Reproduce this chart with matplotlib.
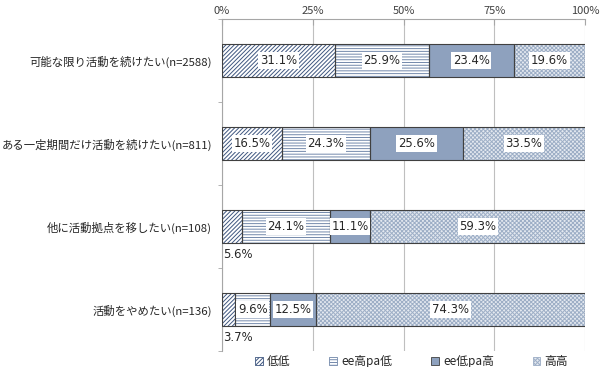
import matplotlib
matplotlib.use("Agg")
import matplotlib.pyplot as plt
from matplotlib.patches import Patch
import numpy as np

plt.rcParams['font.family'] = ['Noto Sans CJK JP', 'DejaVu Sans']
plt.rcParams['hatch.linewidth'] = 0.7

categories = ['可能な限り活動を続けたい(n=2588)',
              'ある一定期間だけ活動を続けたい(n=811)',
              '他に活動拠点を移したい(n=108)',
              '活動をやめたい(n=136)']
series_names = ['低低', 'ee高pa低', 'ee低pa高', '高高']
values = {
    '低低':     [31.1, 16.5, 5.6, 3.7],
    'ee高pa低': [25.9, 24.3, 24.1, 9.6],
    'ee低pa高': [23.4, 25.6, 11.1, 12.5],
    '高高':     [19.6, 33.5, 59.3, 74.3],
}
xticks = [0, 25, 50, 75, 100]
xticklabels = ['0%', '25%', '50%', '75%', '100%']

styles = {
    '低低':     dict(face='white', hatch='////////', hc='#3F5780'),
    'ee高pa低': dict(face='white', hatch='------', hc='#7389AB'),
    'ee低pa高': dict(face='#8EA1BE', hatch=None, hc='#8EA1BE'),
    '高高':     dict(face='#E4E9F0', hatch='xxxxxxxx', hc='#9DAEC6'),
}
edge = '#404040'

fig = plt.figure(figsize=(6.0, 3.67), dpi=100)
ax = fig.add_axes([0.37, 0.044, 0.605, 0.904])

y = np.arange(len(categories))
h = 0.39
left = np.zeros(len(categories))
for name in series_names:
    v = np.array(values[name])
    st = styles[name]
    ax.barh(y, v, left=left, height=h, color=st['face'], hatch=st['hatch'],
            edgecolor=st['hc'], linewidth=0, zorder=2)
    ax.barh(y, v, left=left, height=h, color='none', edgecolor=edge,
            linewidth=0.8, zorder=3)
    for i, (l, val) in enumerate(zip(left, v)):
        txt = f'{val:.1f}%'
        if val < 6:
            ax.text(0.4, y[i] + 0.34, txt, ha='left', va='center', fontsize=8.4,
                    color='#262626', zorder=4, family='DejaVu Sans')
        else:
            ax.text(l + val / 2, y[i], txt, ha='center', va='center', fontsize=8.4,
                    color='#262626', zorder=4, family='DejaVu Sans',
                    bbox=dict(boxstyle='square,pad=0.14', fc='white', ec='none'))
    left = left + v

ax.set_xlim(0, 100)
ax.set_ylim(len(categories) - 0.5, -0.5)
ax.xaxis.tick_top()
ax.set_xticks(xticks)
ax.set_xticklabels(xticklabels, fontsize=8, color='#404040')
ax.set_yticks(y)
ax.set_yticklabels(categories, fontsize=8.2, color='#262626')
ax.set_yticks(np.arange(-0.5, len(categories)), minor=True)
ax.tick_params(axis='y', which='major', length=0, pad=7)
ax.tick_params(axis='y', which='minor', length=3, color='#A6A6A6')
ax.tick_params(axis='x', length=4, color='#A6A6A6', pad=2, direction='in')
ax.grid(axis='x', color='#BFBFBF', linewidth=0.8, zorder=0)
ax.set_axisbelow(True)
for s in ['right', 'bottom']:
    ax.spines[s].set_visible(False)
ax.spines['top'].set_color('#A6A6A6')
ax.spines['left'].set_color('#A6A6A6')

handles = [Patch(facecolor=styles[n]['face'], hatch=styles[n]['hatch'],
                 edgecolor=edge if styles[n]['hatch'] is None else styles[n]['hc'],
                 linewidth=0.6) for n in series_names]
leg = fig.legend(handles, series_names, loc='center', bbox_to_anchor=(0.686, 0.015),
                 ncol=4, frameon=False, fontsize=8.5, handlelength=0.65,
                 handleheight=0.65, handletextpad=0.35, columnspacing=3.3)
for t in leg.get_texts():
    t.set_color('#262626')

fig.savefig('out.png', dpi=100)
